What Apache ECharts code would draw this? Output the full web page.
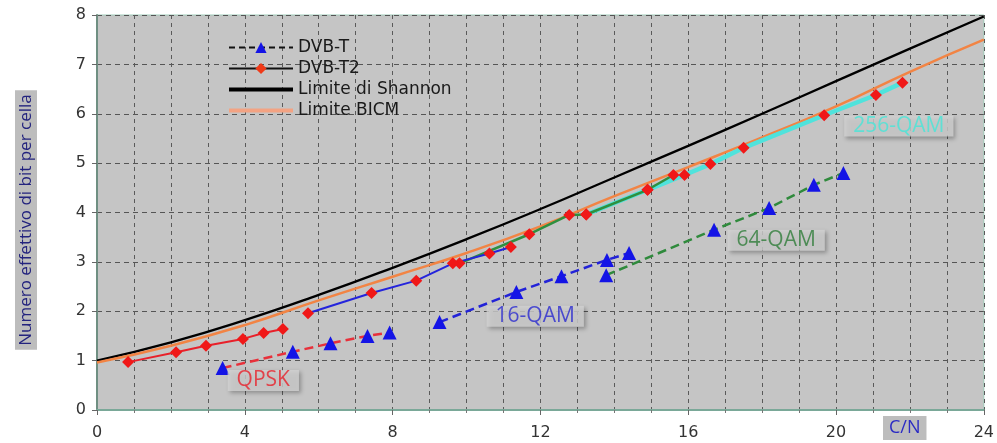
<!DOCTYPE html>
<html>
<head>
<meta charset="utf-8">
<script src="https://cdn.jsdelivr.net/npm/echarts@6/dist/echarts.min.js"></script>
<style>
  html, body { margin: 0; padding: 0; background: #fff; }
  #main { width: 997px; height: 443px; }
</style>
</head>
<body>
<div id="main"></div>
<script>
var dom = document.getElementById('main')
var chart = echarts.init(dom)

// limiti teorici
var shannon = [[0, 1.0], [2, 1.37], [4, 1.82], [6, 2.33], [8, 2.88], [10, 3.46], [12, 4.07],
    [14, 4.71], [16, 5.35], [18, 6.0], [20, 6.66], [22, 7.32], [24, 7.97]];
var bicm = [[0, 0.96], [2, 1.3], [4, 1.72], [6, 2.22], [8, 2.7], [10, 3.18], [12, 3.72],
    [14, 4.33], [16, 4.92], [18, 5.52], [20, 6.15], [22, 6.85], [24, 7.5]];

// DVB-T2 (rombi)
var t2Qpsk = [[0.84, 0.97], [2.14, 1.17], [2.95, 1.3], [3.95, 1.44], [4.51, 1.56], [5.03, 1.64]];
var t2Qam16 = [[5.71, 1.96], [7.43, 2.37], [8.64, 2.62], [9.63, 2.97], [10.62, 3.17], [11.2, 3.3]];
var t2Qam64 = [[9.81, 2.97], [11.7, 3.56], [12.78, 3.95], [13.24, 3.96], [14.9, 4.46], [15.6, 4.76]];
var t2Qam256 = [[13.24, 3.96], [14.9, 4.46], [15.9, 4.76], [16.6, 4.98], [17.5, 5.31],
    [19.68, 5.97], [21.08, 6.38], [21.8, 6.63]];

// DVB-T (triangoli)
var tQpsk = [[3.4, 0.85], [5.3, 1.18], [6.32, 1.35], [7.32, 1.5], [7.92, 1.57]];
var tQam16 = [[9.27, 1.78], [11.35, 2.39], [12.57, 2.71], [13.8, 3.04], [14.4, 3.18]];
var tQam64 = [[13.78, 2.73], [16.7, 3.65], [18.19, 4.09], [19.4, 4.56], [20.2, 4.8]];

// etichette delle modulazioni
var modLabels = [
    { value: [4.5, 0.6], name: 'QPSK', color: '#e8202a' },
    { value: [11.86, 1.9], name: '16-QAM', color: '#2a2ad0' },
    { value: [18.38, 3.44], name: '64-QAM', color: '#2f7d3a' },
    { value: [21.7, 5.75], name: '256-QAM', color: '#46e6d8' }
];

var legendNames = ['DVB-T', 'DVB-T2', 'Limite di Shannon', 'Limite BICM'];

var gridLine = { type: [4, 4], color: '#5a5a5a', width: 1 };

function t2Series(data, color, width) {
    return {
        type: 'line', data: data, symbol: 'diamond', symbolSize: 12,
        lineStyle: { color: color, width: width },
        itemStyle: { color: '#f01818' },
        z: 4
    };
}

function tSeries(data, color) {
    return {
        type: 'line', data: data, symbol: 'triangle', symbolSize: 14,
        lineStyle: { color: color, width: 2.5, type: [9, 5] },
        itemStyle: { color: '#1414e6' },
        z: 4
    };
}

var options = {
    animation: false,
    grid: {
        left: 97, right: 12, top: 15, bottom: 33,
        show: true, backgroundColor: '#c5c5c5', borderColor: '#9fcab8', borderWidth: 1
    },
    title: {
        text: 'C/N', left: 883, top: 416,
        padding: [3, 6, 3, 6],
        backgroundColor: '#bdbdbd',
        textStyle: { color: '#2b2bc4', fontSize: 18, fontWeight: 'normal', fontFamily: 'Open Sans' }
    },
    graphic: [{
        type: 'text', x: 26, y: 220, rotation: Math.PI / 2,
        style: {
            text: 'Numero effettivo di bit per cella',
            fill: '#23237e', fontSize: 17, fontFamily: 'Open Sans',
            align: 'center', verticalAlign: 'middle',
            backgroundColor: '#bdbdbd', padding: [3, 4, 2, 4]
        }
    }],
    legend: {
        data: [
            'DVB-T',
            'DVB-T2',
            { name: 'Limite di Shannon', itemStyle: { opacity: 0 }, lineStyle: { width: 4 } },
            { name: 'Limite BICM', itemStyle: { opacity: 0 }, lineStyle: { width: 4, color: '#f3a383' } }
        ],
        orient: 'vertical', left: 222, top: 34,
        itemWidth: 64, itemHeight: 14, itemGap: 4,
        textStyle: { fontSize: 17, color: '#1a1a1a', fontFamily: 'DejaVu Sans' }
    },
    xAxis: {
        type: 'value', min: 0, max: 24, interval: 4,
        axisLine: { lineStyle: { color: '#7aa898', width: 2 } },
        axisTick: { show: true, length: 5, lineStyle: { color: '#666' } },
        minorTick: { show: true, splitNumber: 4, length: 3, lineStyle: { color: '#777' } },
        splitLine: { show: true, lineStyle: gridLine },
        minorSplitLine: { show: true, lineStyle: gridLine },
        axisLabel: { fontSize: 16, color: '#333', margin: 15, fontFamily: 'DejaVu Sans' }
    },
    yAxis: {
        type: 'value', min: 0, max: 8, interval: 1,
        axisLine: { show: true, lineStyle: { color: '#6f8f82', width: 2 } },
        axisTick: { show: true, length: 5, lineStyle: { color: '#666' } },
        splitLine: { show: true, lineStyle: { type: [5, 4], color: '#555', width: 1 } },
        axisLabel: { fontSize: 16, color: '#333', margin: 11, fontFamily: 'DejaVu Sans' }
    },
    series: [
        {
            name: 'Limite di Shannon', type: 'line', data: shannon, smooth: true,
            symbol: 'none', lineStyle: { color: '#000', width: 2.3 }, itemStyle: { color: '#000' }, z: 3
        },
        {
            name: 'Limite BICM', type: 'line', data: bicm, smooth: true,
            symbol: 'none', lineStyle: { color: '#f28444', width: 2.5 }, itemStyle: { color: '#f4a07a' }, z: 3
        },
        // voci solo per la legenda
        {
            name: 'DVB-T', type: 'line', data: [], symbol: 'triangle', symbolSize: 14,
            lineStyle: { color: '#111', width: 1.5, type: [6, 4] }, itemStyle: { color: '#1414e6' }
        },
        {
            name: 'DVB-T2', type: 'line', data: [], symbol: 'diamond', symbolSize: 11,
            lineStyle: { color: '#111', width: 1.5 }, itemStyle: { color: '#f03a18' }
        },
        t2Series(t2Qam256, '#4fe3dc', 4.5),
        t2Series(t2Qam64, '#2f8f3f', 2.5),
        t2Series(t2Qam16, '#2424dc', 2),
        t2Series(t2Qpsk, '#e8202a', 2),
        tSeries(tQpsk, '#e8303a'),
        tSeries(tQam16, '#2222d8'),
        tSeries(tQam64, '#2f8a3c'),
        {
            type: 'scatter', symbolSize: 0, z: 10,
            data: modLabels.map(function (d) {
                return {
                    value: d.value, name: d.name,
                    label: { color: d.color }
                };
            }),
            label: {
                show: true, position: 'inside', formatter: '{b}',
                fontSize: 21, fontFamily: 'Open Sans',
                backgroundColor: '#d2d2d2', padding: [0, 9, 0, 9],
                shadowColor: 'rgba(0,0,0,0.35)', shadowBlur: 4, shadowOffsetX: 2, shadowOffsetY: 2
            },
            silent: true
        }
    ]
}

chart.setOption(options)
</script>
</body>
</html>
